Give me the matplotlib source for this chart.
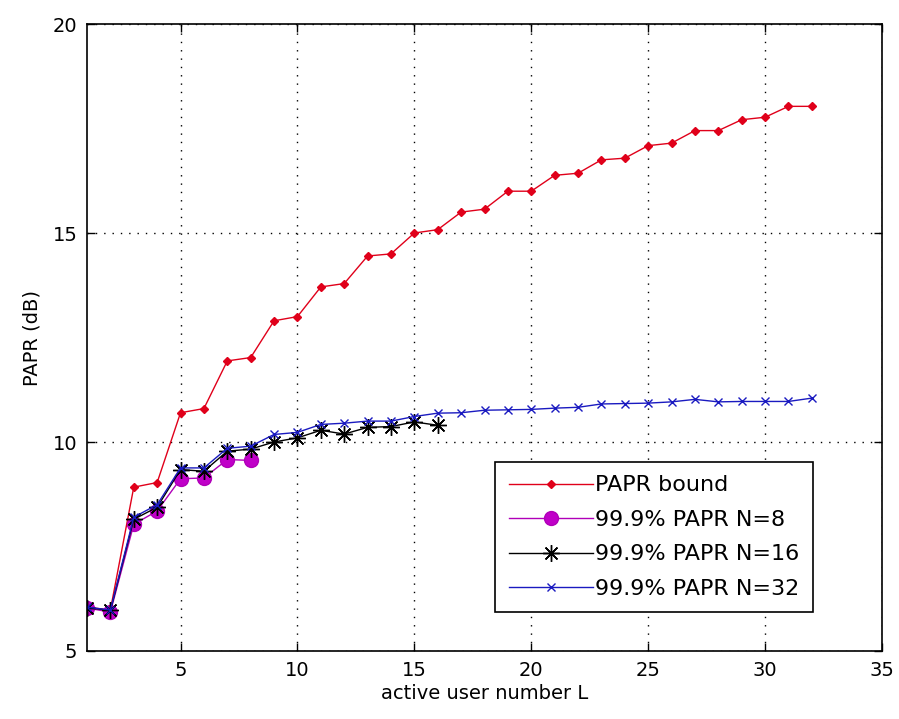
import matplotlib
matplotlib.use("Agg")
import matplotlib.pyplot as plt

# active user number L
users_32 = list(range(1, 33))
users_16 = list(range(1, 17))
users_8 = list(range(1, 9))

papr_bound = [6.05, 5.98, 8.92, 9.03, 10.7, 10.8, 11.94, 12.02, 12.9, 13.0,
              13.71, 13.79, 14.45, 14.5, 15.0, 15.08, 15.5, 15.57, 16.0, 16.0,
              16.38, 16.43, 16.75, 16.79, 17.09, 17.15, 17.45, 17.45, 17.71,
              17.77, 18.03, 18.03]
papr_n8 = [6.03, 5.93, 8.03, 8.35, 9.12, 9.14, 9.58, 9.56]
papr_n16 = [6.04, 5.97, 8.15, 8.44, 9.34, 9.3, 9.78, 9.83, 10.0, 10.1,
            10.28, 10.19, 10.35, 10.37, 10.48, 10.4]
papr_n32 = [6.05, 5.98, 8.2, 8.5, 9.38, 9.38, 9.85, 9.9, 10.18, 10.23,
            10.42, 10.45, 10.5, 10.5, 10.61, 10.69, 10.7, 10.76, 10.77, 10.78,
            10.81, 10.83, 10.91, 10.92, 10.93, 10.96, 11.02, 10.96, 10.97,
            10.97, 10.97, 11.05]

x_ticks = [5, 10, 15, 20, 25, 30, 35]
y_ticks = [5, 10, 15, 20]

plt.rcParams["font.family"] = ["DejaVu Sans"]

fig = plt.figure(figsize=(8.99, 7.19), dpi=100)
ax = fig.add_axes([87 / 899, 1 - 651 / 719, 795 / 899, 627 / 719])

ax.plot(users_32, papr_bound, color="#e0001a", lw=1.0, marker="D",
        markersize=4, label="PAPR bound")
ax.plot(users_8, papr_n8, color="#b000b8", lw=1.0, marker="o",
        markersize=10, markerfacecolor="#c000c8", markeredgecolor="#b000b8",
        label="99.9% PAPR N=8")
ax.plot(users_16, papr_n16, color="black", lw=1.0, marker=(8, 2, 0),
        markersize=12, markeredgewidth=1.0,
        label="99.9% PAPR N=16")
ax.plot(users_32, papr_n32, color="#1a1ac0", lw=1.0, marker="x",
        markersize=6, markeredgewidth=1.0, label="99.9% PAPR N=32")

ax.set_xlim(1, 35)
ax.set_ylim(5, 20)
ax.set_xticks(x_ticks)
ax.set_yticks(y_ticks)
ax.tick_params(direction="in", length=6, width=1, top=True, right=True,
               labelsize=14, pad=7)
for sp in ax.spines.values():
    sp.set_linewidth(1.2)
ax.grid(True, color="black", linestyle=(0, (1, 5)), linewidth=1.0)

ax.set_xlabel("active user number L", fontsize=14, labelpad=3)
ax.set_ylabel("PAPR (dB)", fontsize=14, labelpad=8)

leg = ax.legend(loc="lower right", bbox_to_anchor=(0.913, 0.062),
                borderaxespad=0, fontsize=16, handlelength=3.8,
                handletextpad=0.1, labelspacing=0.65, borderpad=0.6,
                fancybox=False, framealpha=1, edgecolor="black")
leg.get_frame().set_linewidth(1.2)

fig.savefig("out.png", dpi=100)
